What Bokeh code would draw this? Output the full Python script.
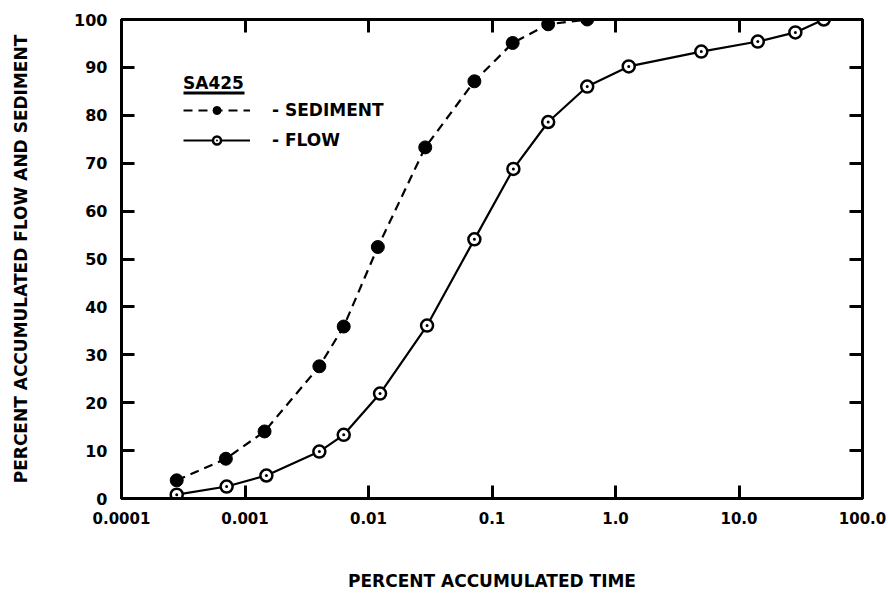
from bokeh.plotting import figure
from bokeh.models import (LogAxis, LinearAxis, FixedTicker, Legend, LegendItem, BoxAnnotation,
                          CustomJSTickFormatter)
from bokeh.embed import file_html
from bokeh.resources import INLINE

# ---- data ----
sed_time = [0.00028, 0.00070, 0.00144, 0.0040, 0.0063, 0.0119, 0.0288, 0.072, 0.147, 0.285, 0.59]
sed_pct = [3.8, 8.3, 14.0, 27.6, 35.9, 52.5, 73.3, 87.1, 95.1, 99.0, 100.0]

flow_time = [0.00028, 0.00071, 0.00149, 0.0040, 0.0063, 0.0124, 0.0298, 0.072, 0.149,
             0.285, 0.59, 1.28, 4.95, 14.2, 28.6, 48.6]
flow_pct = [0.8, 2.5, 4.8, 9.8, 13.3, 21.9, 36.1, 54.1, 68.8, 78.6, 86.0, 90.2, 93.3, 95.4, 97.3, 100.0]

x_ticks = [0.0001, 0.001, 0.01, 0.1, 1.0, 10.0, 100.0]
x_tick_labels = ["0.0001", "0.001", "0.01", "0.1", "1.0", "10.0", "100.0"]
y_ticks = [0, 10, 20, 30, 40, 50, 60, 70, 80, 90, 100]

FONT = "DejaVu Sans"

p = figure(width=888, height=594, x_axis_type="log",
           x_range=(x_ticks[0], x_ticks[-1]), y_range=(y_ticks[0], y_ticks[-1]),
           output_backend="svg", toolbar_location=None,
           min_border_left=121, min_border_right=26, min_border_top=19, min_border_bottom=96)
p.background_fill_color = "white"
p.border_fill_color = "white"
p.grid.visible = False
p.outline_line_color = "black"
p.outline_line_width = 3

# bottom axis
xa = p.xaxis[0]
xa.ticker = FixedTicker(ticks=x_ticks)
xa.major_label_overrides = {t: l for t, l in zip(x_ticks, x_tick_labels)}
xa.axis_label = "PERCENT ACCUMULATED TIME"

# left axis
ya = p.yaxis[0]
ya.ticker = FixedTicker(ticks=y_ticks)
ya.axis_label = "PERCENT ACCUMULATED FLOW AND SEDIMENT"

blank = CustomJSTickFormatter(code="return ''")
top_axis = LogAxis(ticker=FixedTicker(ticks=x_ticks[1:-1]), formatter=blank)
right_axis = LinearAxis(ticker=FixedTicker(ticks=y_ticks[1:-1]), formatter=blank)
p.add_layout(top_axis, "above")
p.add_layout(right_axis, "right")

for ax in [xa, ya, top_axis, right_axis]:
    ax.axis_line_color = "black"
    ax.axis_line_width = 3
    ax.major_tick_line_color = "black"
    ax.major_tick_line_width = 3
    ax.major_tick_in = 13
    ax.major_tick_out = 0
    ax.minor_tick_line_color = None
    ax.major_label_text_font = FONT
    ax.major_label_text_font_style = "bold"
    ax.major_label_text_font_size = "16px"
    ax.major_label_text_color = "black"
    ax.axis_label_text_font = FONT
    ax.axis_label_text_font_style = "bold"
    ax.axis_label_text_font_size = "17px"
    ax.axis_label_text_color = "black"

xa.major_label_text_font_size = "15px"
xa.major_label_standoff = 13
ya.major_label_standoff = 14
xa.axis_label_standoff = 44
ya.axis_label_standoff = 40
for ax in [top_axis, right_axis]:
    ax.major_label_standoff = 0

# curves
sed_line = p.line(sed_time, sed_pct, line_color="black", line_width=2.2, line_dash="9 6")
sed_pts = p.scatter(sed_time, sed_pct, marker="circle", size=13,
                    fill_color="black", line_color="black")
flow_line = p.line(flow_time, flow_pct, line_color="black", line_width=2.2)
flow_pts = p.scatter(flow_time, flow_pct, marker="circle_dot", size=12,
                     fill_color="white", line_color="black", line_width=2.5)

legend = Legend(items=[LegendItem(label="- SEDIMENT", renderers=[sed_line, sed_pts]),
                       LegendItem(label="- FLOW", renderers=[flow_line, flow_pts])],
                title="SA425", location=(62, 348))
legend.title_text_font = FONT
legend.title_text_font_style = "bold"
legend.title_text_font_size = "17px"
legend.title_text_color = "black"
legend.title_standoff = 7
legend.label_text_font = FONT
legend.label_text_font_style = "bold"
legend.label_text_font_size = "17px"
legend.label_text_color = "black"
legend.glyph_width = 67
legend.glyph_height = 20
legend.spacing = 10
legend.label_standoff = 22
legend.padding = 0
legend.margin = 0
legend.border_line_color = None
legend.background_fill_alpha = 0
p.add_layout(legend)

# underline under the legend title (screen units, relative to the plot frame)
p.add_layout(BoxAnnotation(left=62, right=123, top=407, bottom=404,
                           left_units="screen", right_units="screen",
                           top_units="screen", bottom_units="screen",
                           fill_color="black", fill_alpha=1, line_color=None))

open("out.html", "w").write(file_html(p, INLINE))
